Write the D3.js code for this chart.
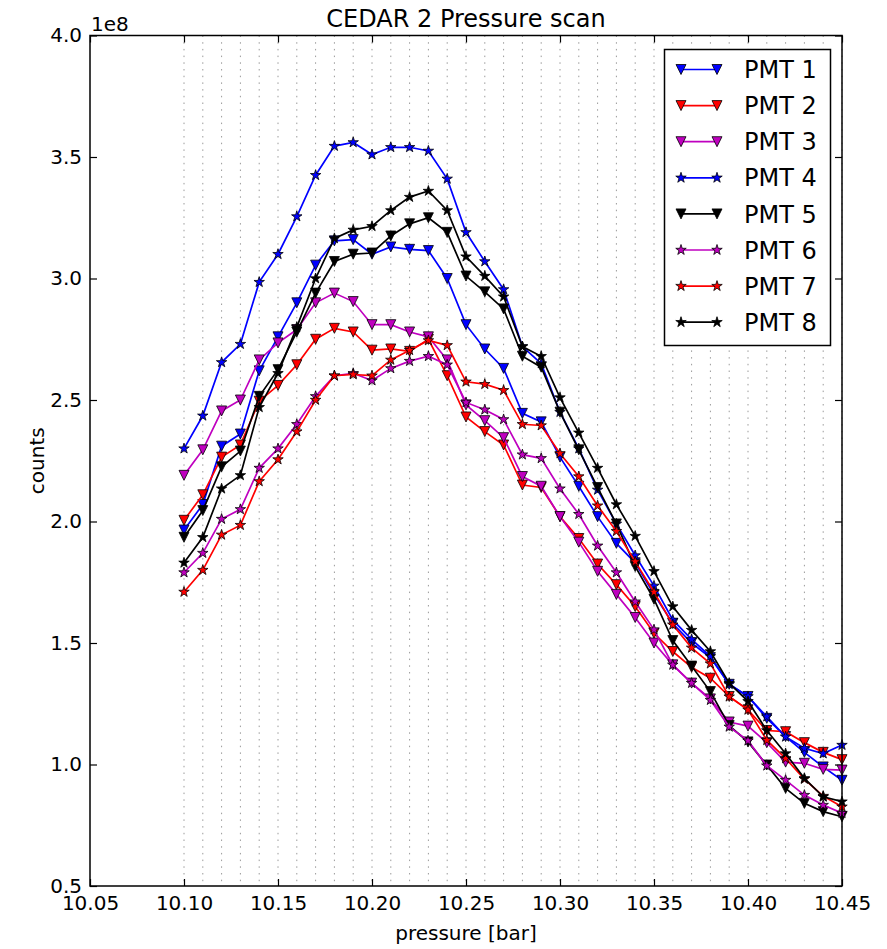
<!DOCTYPE html>
<html>
<head>
<meta charset="utf-8">
<script src="https://cdn.jsdelivr.net/npm/d3@7"></script>
<style>
  body { margin: 0; background: #fff; }
  svg { font-family: "DejaVu Sans", sans-serif; }
  .tick text { font-size: 20px; fill: #000; }
  .tick line { stroke: #000; stroke-width: 1.2; }
</style>
</head>
<body>
<div id="chart"></div>
<script>
// pressure points [bar]
const pressure = [10.10, 10.11, 10.12, 10.13, 10.14, 10.15, 10.16, 10.17, 10.18, 10.19,
  10.20, 10.21, 10.22, 10.23, 10.24, 10.25, 10.26, 10.27, 10.28, 10.29,
  10.30, 10.31, 10.32, 10.33, 10.34, 10.35, 10.36, 10.37, 10.38, 10.39,
  10.40, 10.41, 10.42, 10.43, 10.44, 10.45]

// counts, in units of 1e8
const pmt1 = [1.965, 2.07, 2.31, 2.36, 2.62, 2.76, 2.90, 3.055, 3.155, 3.16, 3.10, 3.13, 3.12, 3.115, 3.00, 2.81, 2.71, 2.63, 2.445, 2.41, 2.265, 2.145, 2.02, 1.91, 1.83, 1.70, 1.58, 1.50, 1.44, 1.33, 1.28, 1.19, 1.115, 1.05, 0.99, 0.935]
const pmt2 = [2.005, 2.11, 2.265, 2.315, 2.495, 2.56, 2.645, 2.75, 2.795, 2.78, 2.705, 2.71, 2.70, 2.75, 2.60, 2.43, 2.37, 2.315, 2.15, 2.14, 2.02, 1.93, 1.825, 1.74, 1.65, 1.54, 1.465, 1.40, 1.355, 1.28, 1.225, 1.14, 1.135, 1.09, 1.05, 1.02]
const pmt3 = [2.19, 2.295, 2.455, 2.50, 2.665, 2.735, 2.79, 2.90, 2.94, 2.905, 2.81, 2.81, 2.78, 2.76, 2.665, 2.48, 2.415, 2.345, 2.185, 2.145, 2.02, 1.915, 1.795, 1.70, 1.605, 1.50, 1.41, 1.335, 1.27, 1.175, 1.158, 1.09, 1.01, 1.005, 0.98, 0.977]
const pmt4 = [2.30, 2.435, 2.655, 2.73, 2.985, 3.10, 3.255, 3.425, 3.545, 3.56, 3.51, 3.54, 3.54, 3.525, 3.41, 3.19, 3.07, 2.955, 2.72, 2.65, 2.45, 2.30, 2.13, 1.99, 1.86, 1.735, 1.595, 1.515, 1.445, 1.33, 1.28, 1.197, 1.114, 1.067, 1.045, 1.08]
const pmt5 = [1.935, 2.045, 2.225, 2.29, 2.515, 2.625, 2.78, 2.94, 3.07, 3.10, 3.105, 3.175, 3.225, 3.25, 3.19, 3.01, 2.945, 2.875, 2.68, 2.635, 2.45, 2.295, 2.14, 1.99, 1.815, 1.68, 1.51, 1.405, 1.30, 1.16, 1.093, 0.998, 0.902, 0.84, 0.806, 0.785]
const pmt6 = [1.79, 1.87, 2.01, 2.05, 2.22, 2.30, 2.40, 2.515, 2.60, 2.61, 2.58, 2.63, 2.66, 2.68, 2.645, 2.49, 2.46, 2.42, 2.275, 2.26, 2.135, 2.03, 1.90, 1.79, 1.67, 1.555, 1.41, 1.335, 1.265, 1.155, 1.098, 0.995, 0.936, 0.874, 0.833, 0.80]
const pmt7 = [1.71, 1.80, 1.945, 1.985, 2.165, 2.255, 2.37, 2.50, 2.60, 2.605, 2.60, 2.665, 2.705, 2.745, 2.725, 2.575, 2.565, 2.54, 2.40, 2.395, 2.28, 2.185, 2.065, 1.96, 1.835, 1.71, 1.575, 1.48, 1.415, 1.279, 1.225, 1.10, 1.025, 0.94, 0.87, 0.826]
const pmt8 = [1.83, 1.935, 2.135, 2.19, 2.47, 2.61, 2.80, 3.00, 3.165, 3.20, 3.215, 3.28, 3.335, 3.36, 3.28, 3.09, 3.01, 2.925, 2.72, 2.68, 2.51, 2.365, 2.22, 2.07, 1.94, 1.795, 1.65, 1.553, 1.465, 1.335, 1.26, 1.14, 1.045, 0.943, 0.867, 0.847]

const seriesNames = ['PMT 1', 'PMT 2', 'PMT 3', 'PMT 4', 'PMT 5', 'PMT 6', 'PMT 7', 'PMT 8']
const seriesValues = [pmt1, pmt2, pmt3, pmt4, pmt5, pmt6, pmt7, pmt8]
const seriesColors = ['#0000ff', '#ff0000', '#bf00bf', '#0000ff', '#000000', '#bf00bf', '#ff0000', '#000000']
const seriesMarkers = ['v', 'v', 'v', '*', 'v', '*', '*', '*']

const xTicks = [10.05, 10.10, 10.15, 10.20, 10.25, 10.30, 10.35, 10.40, 10.45]
const yTicks = [0.5, 1.0, 1.5, 2.0, 2.5, 3.0, 3.5, 4.0]

const W = 887, H = 949
const plot = { left: 90, right: 842, top: 35.5, bottom: 886 }

const svg = d3.select('#chart').append('svg')
  .attr('width', W)
  .attr('height', H)

const x = d3.scaleLinear().domain([10.05, 10.45]).range([plot.left, plot.right])
const y = d3.scaleLinear().domain([0.5, 4.0]).range([plot.bottom, plot.top])

// marker shapes (matplotlib 'v' and '*')
const triangleDown = (r) => `M0,${r}L${-r},${-r}L${r},${-r}Z`
const star = (r) => {
  const inner = r * 0.381966
  let d = ''
  for (let k = 0; k < 10; k++) {
    const rad = k % 2 === 0 ? r : inner
    const a = -Math.PI / 2 + k * Math.PI / 5
    d += (k === 0 ? 'M' : 'L') + (rad * Math.cos(a)).toFixed(2) + ',' + (rad * Math.sin(a)).toFixed(2)
  }
  return d + 'Z'
}
const markerPath = (m) => m === 'v' ? triangleDown(5) : star(5.5)

// dotted vertical grid at each measurement point
svg.append('g')
  .selectAll('line')
  .data(pressure)
  .enter().append('line')
    .attr('x1', d => x(d))
    .attr('x2', d => x(d))
    .attr('y1', plot.top)
    .attr('y2', plot.bottom)
    .attr('stroke', '#9a9a9a')
    .attr('stroke-width', 1)
    .attr('stroke-dasharray', '1.5,5.2')

// axes, ticks pointing inward
const tick = 7
svg.append('g')
  .attr('transform', `translate(0,${plot.bottom})`)
  .call(d3.axisBottom(x).tickValues(xTicks).tickFormat(d3.format('.2f'))
    .tickSizeInner(-tick).tickSizeOuter(0).tickPadding(10))
  .call(g => g.select('.domain').remove())

svg.append('g')
  .attr('transform', `translate(0,${plot.top})`)
  .call(d3.axisTop(x).tickValues(xTicks).tickFormat('')
    .tickSizeInner(-tick).tickSizeOuter(0))
  .call(g => g.select('.domain').remove())

svg.append('g')
  .attr('transform', `translate(${plot.left},0)`)
  .call(d3.axisLeft(y).tickValues(yTicks).tickFormat(d3.format('.1f'))
    .tickSizeInner(-tick).tickSizeOuter(0).tickPadding(8))
  .call(g => g.select('.domain').remove())

svg.append('g')
  .attr('transform', `translate(${plot.right},0)`)
  .call(d3.axisRight(y).tickValues(yTicks).tickFormat('')
    .tickSizeInner(-tick).tickSizeOuter(0))
  .call(g => g.select('.domain').remove())

svg.selectAll('.tick text').attr('font-family', 'DejaVu Sans').attr('font-size', 20)

// series
const line = d3.line()
  .x((d, i) => x(pressure[i]))
  .y(d => y(d))

seriesValues.forEach((values, s) => {
  const g = svg.append('g')
  g.append('path')
    .datum(values)
    .attr('d', line)
    .attr('fill', 'none')
    .attr('stroke', seriesColors[s])
    .attr('stroke-width', 1.7)
  g.selectAll('path.marker')
    .data(values)
    .enter().append('path')
      .attr('class', 'marker')
      .attr('transform', (d, i) => `translate(${x(pressure[i])},${y(d)})`)
      .attr('d', markerPath(seriesMarkers[s]))
      .attr('fill', seriesColors[s])
      .attr('stroke', '#000')
      .attr('stroke-width', 0.8)
})

// frame
svg.append('rect')
  .attr('x', plot.left)
  .attr('y', plot.top)
  .attr('width', plot.right - plot.left)
  .attr('height', plot.bottom - plot.top)
  .attr('fill', 'none')
  .attr('stroke', '#000')
  .attr('stroke-width', 1.5)

// texts
svg.append('text')
  .attr('x', (plot.left + plot.right) / 2)
  .attr('y', 27)
  .attr('text-anchor', 'middle')
  .attr('font-size', 24)
  .text('CEDAR 2 Pressure scan')

svg.append('text')
  .attr('x', 91)
  .attr('y', 31)
  .attr('font-size', 20)
  .text('1e8')

svg.append('text')
  .attr('x', (plot.left + plot.right) / 2)
  .attr('y', 940)
  .attr('text-anchor', 'middle')
  .attr('font-size', 20)
  .text('pressure [bar]')

svg.append('text')
  .attr('transform', `translate(44,${(plot.top + plot.bottom) / 2}) rotate(-90)`)
  .attr('text-anchor', 'middle')
  .attr('font-size', 20)
  .text('counts')

// legend
const legend = svg.append('g')
legend.append('rect')
  .attr('x', 664.5)
  .attr('y', 49.5)
  .attr('width', 166)
  .attr('height', 296)
  .attr('fill', '#fff')
  .attr('stroke', '#000')
  .attr('stroke-width', 1.5)

const entry = legend.selectAll('g.entry')
  .data(seriesNames)
  .enter().append('g')
    .attr('class', 'entry')
    .attr('transform', (d, i) => `translate(0,${69.5 + i * 36.1})`)

entry.append('line')
  .attr('x1', 681).attr('x2', 717)
  .attr('stroke', (d, i) => seriesColors[i])
  .attr('stroke-width', 1.7)

;[681, 717].forEach(mx => {
  entry.append('path')
    .attr('transform', `translate(${mx},0)`)
    .attr('d', (d, i) => markerPath(seriesMarkers[i]))
    .attr('fill', (d, i) => seriesColors[i])
    .attr('stroke', '#000')
    .attr('stroke-width', 0.8)
})

entry.append('text')
  .attr('x', 744)
  .attr('y', 0)
  .attr('dy', '0.36em')
  .attr('font-size', 24)
  .text(d => d)
</script>
</body>
</html>
